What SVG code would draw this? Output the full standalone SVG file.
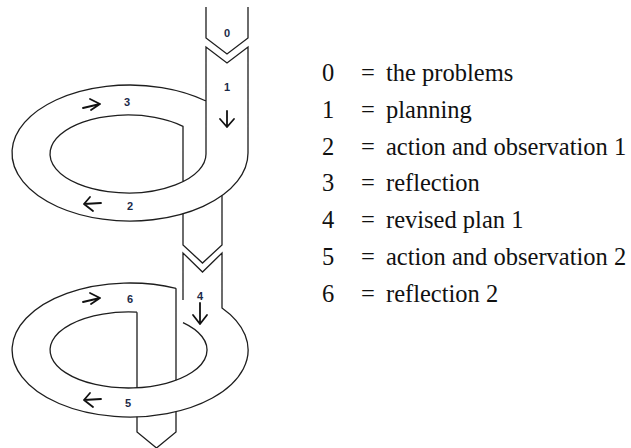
<svg xmlns="http://www.w3.org/2000/svg" width="631" height="448" viewBox="0 0 631 448">
<style>
.ln{fill:none;stroke:#1e1e1e;stroke-width:1.3;stroke-linejoin:miter}
.ar{fill:none;stroke:#111;stroke-width:1.8;stroke-linecap:round;stroke-linejoin:round}
.lb{font-size:11px;font-weight:bold;fill:#1c2a48;text-anchor:middle}
.lg{font-size:24.5px;fill:#111}
</style>
<rect width="631" height="448" fill="#fff"/>
<g id="node-0">
<path class="ln" d="M206,7 V38 L227,54 L248,38 V7"/>
<text class="lb" x="227" y="37" font-family="Liberation Sans">0</text>
</g>
<g id="ring-1">
<path class="ln" d="M206,101 A118,68 0 1 0 248,153 L248,47 L227,63 L206,47 L206,154 A78,39 0 1 1 183,126.3 V181.7"/>
<path class="ln" d="M183,213.8 V245 L202.5,263 L222,245 V195.6"/>
<text class="lb" x="227" y="91" font-family="Liberation Sans">1</text>
<text class="lb" x="127" y="106" font-family="Liberation Sans">3</text>
<text class="lb" x="130" y="210" font-family="Liberation Sans">2</text>
</g>
<g id="ring-2">
<path class="ln" d="M176,288.3 A118,67 0 1 0 222,308 L222,253 L202.5,272 L183,253 L183,300"/>
<path class="ln" d="M137,312.2 A78.5,38 0 1 0 183,322.6"/>
<path class="ln" d="M137,312.2 V387.8 M176,288.3 V380.2"/>
<path class="ln" d="M137,416.8 V432 L156.5,448 L176,432 V411.7"/>
<text class="lb" x="200" y="300" font-family="Liberation Sans">4</text>
<text class="lb" x="130" y="303" font-family="Liberation Sans">6</text>
<text class="lb" x="128" y="407" font-family="Liberation Sans">5</text>
</g>
<g id="connectors">
<path class="ar" d="M227,111 V127 M220,119 L227,127 L234,119"/>
<path class="ar" d="M200,303 V324 M193,315 L200,324 L207,315"/>
<path class="ar" d="M83,108 L100,104 M90,99 L100,104 L91,110"/>
<path class="ar" d="M101,203 L84,204 M90,197 L84,204 L93,211"/>
<path class="ar" d="M83,302 L100,298 M90,293 L100,298 L91,304"/>
<path class="ar" d="M101,399 L84,400 M90,393 L84,400 L93,407"/>
</g>
<g id="legend">
<text class="lg" x="322" y="81" font-family="Liberation Serif">0</text><text class="lg" x="361" y="81" font-family="Liberation Serif">=</text><text class="lg" x="386" y="81" font-family="Liberation Serif">the problems</text>
<text class="lg" x="322" y="118" font-family="Liberation Serif">1</text><text class="lg" x="361" y="118" font-family="Liberation Serif">=</text><text class="lg" x="386" y="118" font-family="Liberation Serif">planning</text>
<text class="lg" x="322" y="155" font-family="Liberation Serif">2</text><text class="lg" x="361" y="155" font-family="Liberation Serif">=</text><text class="lg" x="386" y="155" font-family="Liberation Serif">action and observation 1</text>
<text class="lg" x="322" y="191" font-family="Liberation Serif">3</text><text class="lg" x="361" y="191" font-family="Liberation Serif">=</text><text class="lg" x="386" y="191" font-family="Liberation Serif">reflection</text>
<text class="lg" x="322" y="228" font-family="Liberation Serif">4</text><text class="lg" x="361" y="228" font-family="Liberation Serif">=</text><text class="lg" x="386" y="228" font-family="Liberation Serif">revised plan 1</text>
<text class="lg" x="322" y="265" font-family="Liberation Serif">5</text><text class="lg" x="361" y="265" font-family="Liberation Serif">=</text><text class="lg" x="386" y="265" font-family="Liberation Serif">action and observation 2</text>
<text class="lg" x="322" y="302" font-family="Liberation Serif">6</text><text class="lg" x="361" y="302" font-family="Liberation Serif">=</text><text class="lg" x="386" y="302" font-family="Liberation Serif">reflection 2</text>
</g>
</svg>
